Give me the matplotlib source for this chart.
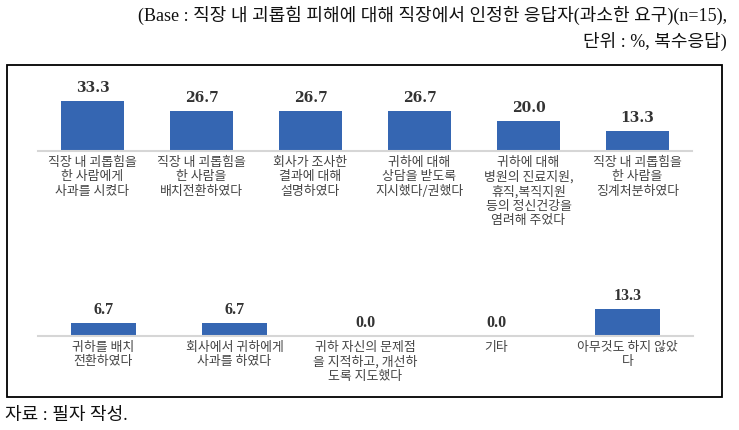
import matplotlib.pyplot as plt
from matplotlib.patches import Rectangle

# 데이터 (n=15, 복수응답, %)
top_labels = ["직장 내 괴롭힘을\n한 사람에게\n사과를 시켰다",
              "직장 내 괴롭힘을\n한 사람을\n배치전환하였다",
              "회사가 조사한\n결과에 대해\n설명하였다",
              "귀하에 대해\n상담을 받도록\n지시했다/권했다",
              "귀하에 대해\n병원의 진료지원,\n휴직,복직지원\n등의 정신건강을\n염려해 주었다",
              "직장 내 괴롭힘을\n한 사람을\n징계처분하였다"]
top_values = [33.3, 26.7, 26.7, 26.7, 20.0, 13.3]

bottom_labels = ["귀하를 배치\n전환하였다",
                 "회사에서 귀하에게\n사과를 하였다",
                 "귀하 자신의 문제점\n을 지적하고, 개선하\n도록 지도했다",
                 "기타",
                 "아무것도 하지 않았\n다"]
bottom_values = [6.7, 6.7, 0.0, 0.0, 13.3]

header = ["(Base : 직장 내 괴롭힘 피해에 대해 직장에서 인정한 응답자(과소한 요구)(n=15),",
          "단위 : %, 복수응답)"]
source = "자료 : 필자 작성."

bar_color = '#3566B2'
kr = ['Noto Sans CJK KR', 'DejaVu Sans']
serif_kr = ['Liberation Serif', 'Noto Sans CJK KR']

W, H = 739, 431
fig = plt.figure(figsize=(W / 100, H / 100), dpi=100)


def px_axes(x0, x1, base_y, height_px):
    # pixel coords (from top-left) -> figure fraction
    return fig.add_axes([x0 / W, (H - base_y) / H, (x1 - x0) / W, height_px / H])


def draw_row(ax, labels, values, width, ymax, vfont, vsize):
    x = range(len(values))
    ax.bar(x, values, width=width, color=bar_color)
    ax.set_xlim(-0.5, len(values) - 0.5)
    ax.set_ylim(0, ymax)
    for i, v in enumerate(values):
        ax.annotate(f'{v:.1f}', (i, v), xytext=(0, 14), textcoords='offset pixels',
                    ha='center', va='center', fontsize=vsize, fontweight='bold',
                    color='#333333', family=vfont)
    ax.set_xticks(list(x))
    ax.set_xticklabels(labels, fontsize=9.3, color='#444444', family=kr,
                       linespacing=1.12)
    ax.tick_params(axis='x', length=0, pad=3)
    ax.set_yticks([])
    for s in ['top', 'right', 'left']:
        ax.spines[s].set_visible(False)
    ax.spines['bottom'].set_color('#d6d6d6')
    ax.spines['bottom'].set_linewidth(1.5)
    ax.patch.set_alpha(0)


ax1 = px_axes(38, 692, 152, 60)
draw_row(ax1, top_labels, top_values, 0.58, 40, 'DejaVu Serif', 10)

ax2 = px_axes(38, 693, 337, 40)
draw_row(ax2, bottom_labels, bottom_values, 0.5, 20, 'Liberation Serif', 11.5)

# 테두리 박스
fig.patches.append(Rectangle((7 / W, (H - 398) / H), (722 - 7) / W, (398 - 66) / H,
                             transform=fig.transFigure, fill=False,
                             edgecolor='black', linewidth=1.3))

fig.text(727 / W, 1 - 15 / H, header[0], ha='right', va='center',
         fontsize=13, family=serif_kr, color='#111111')
fig.text(727 / W, 1 - 41 / H, header[1], ha='right', va='center',
         fontsize=13, family=serif_kr, color='#111111')
fig.text(5 / W, 1 - 416 / H, source, ha='left', va='center',
         fontsize=13, family=serif_kr, color='#111111')

fig.savefig('out.png', dpi=100)
